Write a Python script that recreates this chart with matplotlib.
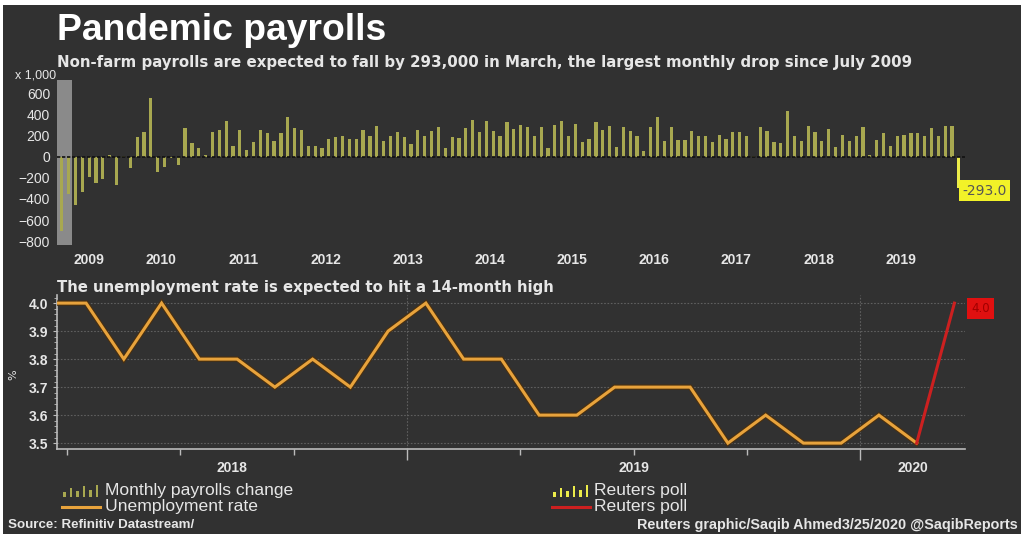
import numpy as np
import pandas as pd
import matplotlib
matplotlib.use("Agg")
import matplotlib.pyplot as plt
import matplotlib.patheffects as pe
from matplotlib.patches import Rectangle
from matplotlib.lines import Line2D
from matplotlib.transforms import blended_transform_factory

# Monthly change in non-farm payrolls (thousands), Apr 2009 - Feb 2020
payrolls = [-700, -350, -460, -330, -190, -250, -205, 15, -270, 5,
            -105, 190, 240, 560, -140, -95, -10, -75, 280, 135,
            85, 22, 235, 254, 340, 108, 254, 70, 143, 254,
            225, 150, 225, 380, 273, 254, 102, 108, 89, 171,
            190, 200, 175, 171, 254, 203, 298, 150, 203, 235,
            190, 127, 254, 203, 244, 283, 83, 194, 184, 273,
            349, 235, 346, 244, 203, 330, 267, 305, 286, 203,
            289, 83, 305, 346, 197, 317, 143, 175, 330, 254,
            295, 92, 286, 244, 197, 54, 286, 381, 150, 289,
            165, 165, 244, 203, 203, 143, 213, 175, 235, 235,
            203, 14, 286, 244, 143, 130, 435, 197, 150, 295,
            235, 150, 264, 92, 213, 156, 203, 286, 22, 165,
            225, 102, 203, 213, 225, 225, 203, 273, 203, 295,
            295]
payrolls_start = "2009-04"
payrolls_poll = -293.0
recession_end = "2009-06"

# Unemployment rate (%), Mar 2018 - Feb 2020
unemp = [4.0, 4.0, 3.8, 4.0, 3.8, 3.8, 3.7, 3.8, 3.7, 3.9,
         4.0, 3.8, 3.8, 3.6, 3.6, 3.7, 3.7, 3.7, 3.5, 3.6,
         3.5, 3.5, 3.6, 3.5]
unemp_start = "2018-03"
unemp_poll = 4.0

pay_years = list(range(2009, 2020))
unemp_years = [2018, 2019, 2020]

BG = "#313131"
TXT = "#e6e6e6"
BAR = "#a8a850"
POLLBAR = "#ecec4a"
ORANGE = "#e8a33c"
RED = "#cc2020"

W, H = 1026, 534
fig = plt.figure(figsize=(W / 100, H / 100), dpi=100)
fig.patch.set_facecolor("white")
fig.add_artist(Rectangle((3 / W, 0), 1018 / W, 529 / H, transform=fig.transFigure,
                         facecolor=BG, edgecolor="none", zorder=-5))


def fx(px):
    return px / W


def fy(py):
    return 1 - py / H


# ---- titles
fig.text(fx(57), fy(40), "Pandemic payrolls", color="white", fontsize=26.8,
         fontweight="bold", family="Liberation Sans", va="baseline")
fig.text(fx(57), fy(67), "Non-farm payrolls are expected to fall by 293,000 in March, "
         "the largest monthly drop since July 2009", color=TXT, fontsize=10.8,
         fontweight="bold", family="DejaVu Sans", va="baseline")
fig.text(fx(15), fy(76), "x 1,000", color=TXT, fontsize=9, va="center",
         family="Liberation Sans")

# ---- payrolls chart
months = pd.period_range(payrolls_start, periods=len(payrolls), freq="M")
x = np.arange(len(payrolls))
ax1 = fig.add_axes([fx(57), fy(245), fx(965 - 57), 165 / H])
ax1.set_facecolor("none")
xl = (-0.7, 131.9)
ax1.set_xlim(*xl)
ax1.set_ylim(-838, 733)

rec_end = (pd.Period(recession_end, "M") - months[0]).n - 0.5
ax1.axvspan(xl[0], rec_end, color="#8a8a8a", zorder=1, lw=0)
ax1.bar(x, payrolls, width=0.47, color=BAR, zorder=2)
ax1.bar(len(payrolls), payrolls_poll, width=0.47, color=POLLBAR, zorder=2)
ax1.axhline(0, color="#111111", lw=1.2, ls=(0, (2, 1)), zorder=3)

ax1.text(len(payrolls) + 0.55, payrolls_poll - 30, f"{payrolls_poll:.1f}", color="#555555",
         fontsize=10, va="center", ha="left", clip_on=False,
         bbox=dict(facecolor="#f2f228", edgecolor="none", pad=2.5))

ax1.set_yticks(range(-800, 601, 200))
centers = []
for yr in pay_years:
    start = (pd.Period(f"{yr}-01", "M") - months[0]).n - 0.5
    end = start + 12
    centers.append((max(start, xl[0]) + min(end, xl[1])) / 2)
ax1.set_xticks(centers)
ax1.set_xticklabels([str(y) for y in pay_years])
ax1.tick_params(length=0, colors=TXT, labelsize=10, pad=5)
ax1.tick_params(axis="x", pad=6)
for lab in ax1.get_xticklabels() + ax1.get_yticklabels():
    lab.set_family("Liberation Sans")
for lab in ax1.get_xticklabels():
    lab.set_fontweight("bold")
for s in ax1.spines.values():
    s.set_visible(False)

# ---- unemployment chart
fig.text(fx(57), fy(292), "The unemployment rate is expected to hit a 14-month high",
         color=TXT, fontsize=10.7, fontweight="bold", family="DejaVu Sans", va="baseline")
fig.text(fx(8), fy(375), "%", color=TXT, fontsize=8, rotation=90, va="center")

u_months = pd.period_range(unemp_start, periods=len(unemp), freq="M")
base = pd.Period("2018-01", "M")
ux = np.array([(m - base).n + 0.5 for m in u_months])
poll_x = ux[-1] + 1

ax2 = fig.add_axes([fx(57), fy(449), fx(965 - 57), 154 / H])
ax2.set_facecolor("none")
ax2.set_xlim(2.73, 26.78)
ax2.set_ylim(3.479, 4.029)

ax2.set_yticks(np.arange(3.5, 4.01, 0.1))
ax2.set_yticklabels([f"{v:.1f}" for v in np.arange(3.5, 4.01, 0.1)])
ax2.set_yticks(np.arange(3.5, 4.03, 0.02), minor=True)
ax2.grid(axis="y", which="major", ls=(0, (1.5, 1.5)), color="#5f5f5f", lw=0.8)
for jan in (12, 24):
    ax2.axvline(jan, ls=(0, (1.5, 1.5)), color="#5f5f5f", lw=0.8)

ax2.set_xticks([12, 24])
ax2.set_xticks([3, 6, 9, 15, 18, 21], minor=True)
ax2.set_xticklabels([])
ax2.tick_params(axis="x", which="major", length=8, color="#bbbbbb", width=1)
ax2.tick_params(axis="x", which="minor", length=4, color="#bbbbbb", width=1)
ax2.tick_params(axis="y", which="major", length=3, color="#bbbbbb", labelcolor=TXT,
                labelsize=10, pad=3)
ax2.tick_params(axis="y", which="minor", length=2, color="#bbbbbb")
for lab in ax2.get_yticklabels():
    lab.set_family("Liberation Sans")
    lab.set_fontweight("bold")
for s in ("top", "right"):
    ax2.spines[s].set_visible(False)
for s in ("left", "bottom"):
    ax2.spines[s].set_color("#bbbbbb")
    ax2.spines[s].set_linewidth(1.2)

ax2.plot(ux, unemp, color=ORANGE, lw=2.2, zorder=4, solid_joinstyle="miter",
         path_effects=[pe.Stroke(linewidth=3.8, foreground="#4a3010"), pe.Normal()])
ax2.plot([ux[-1], poll_x], [unemp[-1], unemp_poll], color=RED, lw=2.2, zorder=4)
ax2.text(26.95, unemp_poll - 0.02, f"{unemp_poll:.1f}", color="#a00000", fontsize=8.5,
         va="center", ha="left", clip_on=False,
         bbox=dict(facecolor="#e01010", edgecolor="none", pad=3))

trans = blended_transform_factory(ax2.transData, ax2.transAxes)
xl2 = ax2.get_xlim()
for yr in unemp_years:
    start = (yr - 2018) * 12
    c = (max(start, xl2[0]) + min(start + 12, xl2[1])) / 2
    ax2.text(c, -0.125, str(yr), transform=trans, color=TXT, fontsize=10,
             fontweight="bold", ha="center", va="center", family="Liberation Sans")

# ---- legend


def bar_icon(x0, yc, color):
    hs = [5, 9, 6, 11, 7, 12]
    for k, h in enumerate(hs):
        fig.add_artist(Rectangle((fx(x0 + k * 6.5), fy(yc + 6)), fx(2.6), h / H,
                                 transform=fig.transFigure, color=color, lw=0))


def line_icon(x0, yc, color):
    fig.add_artist(Line2D([fx(x0), fx(x0 + 38)], [fy(yc), fy(yc)],
                          transform=fig.transFigure, color=color, lw=2.2))


bar_icon(63, 491, BAR)
line_icon(62, 507, ORANGE)
bar_icon(553, 491, POLLBAR)
line_icon(552, 507, RED)
for (xx, yy, t) in [(105, 491, "Monthly payrolls change"), (105, 506, "Unemployment rate"),
                    (594, 491, "Reuters poll"), (594, 506, "Reuters poll")]:
    fig.text(fx(xx), fy(yy), t, color=TXT, fontsize=12.6, va="center",
             family="Liberation Sans")

fig.text(fx(8), fy(525), "Source: Refinitiv Datastream/", color=TXT, fontsize=9.6,
         fontweight="bold", va="center", family="Liberation Sans")
fig.text(fx(1018), fy(525), "Reuters graphic/Saqib Ahmed3/25/2020 @SaqibReports",
         color=TXT, fontsize=10.4, fontweight="bold", va="center", ha="right",
         family="Liberation Sans")

fig.savefig("out.png", dpi=100, facecolor=fig.get_facecolor())
